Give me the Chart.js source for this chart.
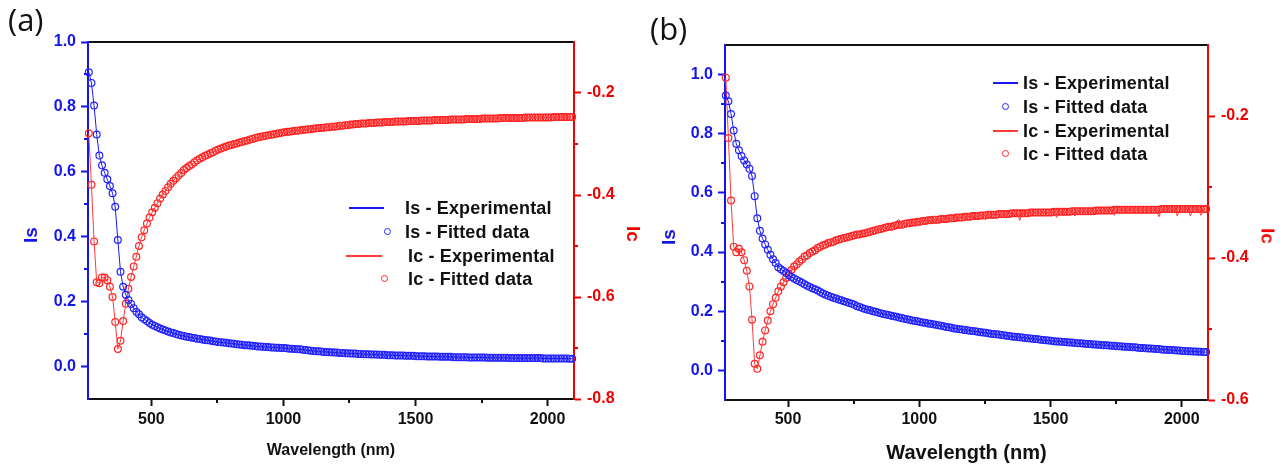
<!DOCTYPE html>
<html><head><meta charset="utf-8">
<script src="https://cdn.jsdelivr.net/npm/chart.js@4.4.1/dist/chart.umd.min.js"></script>
<style>
html,body{margin:0;padding:0;background:#fff;}
body{width:1287px;height:465px;position:relative;overflow:hidden;}
canvas{position:absolute;top:0;}
.panel{position:absolute;font-family:'Open Sans','Noto Sans',sans-serif;font-size:31px;line-height:31px;color:#111;white-space:nowrap;}
.ytitle{position:absolute;font:bold 19px 'Liberation Sans',Arial,sans-serif;line-height:19px;white-space:nowrap;}
.lrow{position:absolute;height:20px;line-height:20px;white-space:nowrap;font:bold 18px 'Liberation Sans',Arial,sans-serif;color:#111;letter-spacing:0.15px;}
.lline{position:absolute;height:1.4px;}
.ldot{position:absolute;width:5px;height:5px;border-style:solid;border-width:1.3px;border-radius:50%;}
</style></head><body>
<canvas id="ca" width="645" height="465" style="left:0px;width:645px;height:465px"></canvas>
<canvas id="cb" width="642" height="465" style="left:645px;width:642px;height:465px"></canvas>
<div class="panel" style="left:8px;top:4px">(a)</div>
<div class="panel" style="left:650px;top:13px">(b)</div>
<div id="overlay"></div>
<script>
// ---------------- data ----------------
const wavelength = [
263,273,283,293,303,313,323,333,343,353,
363,373,383,393,403,413,423,433,443,453,
463,473,483,493,503,513,523,533,543,553,
563,573,583,593,603,613,623,633,643,653,
663,673,683,693,703,713,723,733,743,753,
763,773,783,793,803,813,823,833,843,853,
863,873,883,893,903,913,923,933,943,953,
963,973,983,993,1003,1013,1023,1033,1043,1053,
1063,1073,1083,1093,1103,1113,1123,1133,1143,1153,
1163,1173,1183,1193,1203,1213,1223,1233,1243,1253,
1263,1273,1283,1293,1303,1313,1323,1333,1343,1353,
1363,1373,1383,1393,1403,1413,1423,1433,1443,1453,
1463,1473,1483,1493,1503,1513,1523,1533,1543,1553,
1563,1573,1583,1593,1603,1613,1623,1633,1643,1653,
1663,1673,1683,1693,1703,1713,1723,1733,1743,1753,
1763,1773,1783,1793,1803,1813,1823,1833,1843,1853,
1863,1873,1883,1893,1903,1913,1923,1933,1943,1953,
1963,1973,1983,1993,2003,2013,2023,2033,2043,2053,
2063,2073,2083,2093];

// panel (a)
const isA = [
0.907,0.874,0.804,0.715,0.650,0.620,0.597,0.577,0.556,0.534,
0.492,0.390,0.292,0.246,0.221,0.205,0.193,0.180,0.169,0.161,
0.152,0.146,0.140,0.134,0.129,0.125,0.121,0.117,0.114,0.111,
0.108,0.105,0.103,0.100,0.098,0.096,0.094,0.092,0.091,0.089,
0.088,0.086,0.085,0.083,0.082,0.081,0.080,0.078,0.077,0.076,
0.075,0.074,0.073,0.072,0.071,0.070,0.069,0.068,0.067,0.066,
0.066,0.065,0.064,0.063,0.062,0.062,0.061,0.060,0.060,0.059,
0.059,0.058,0.058,0.057,0.057,0.056,0.055,0.055,0.054,0.053,
0.053,0.052,0.051,0.050,0.049,0.048,0.047,0.047,0.046,0.045,
0.045,0.044,0.044,0.043,0.043,0.042,0.042,0.041,0.041,0.040,
0.040,0.040,0.039,0.039,0.038,0.038,0.038,0.037,0.037,0.037,
0.036,0.036,0.036,0.035,0.035,0.035,0.034,0.034,0.034,0.034,
0.033,0.033,0.033,0.033,0.032,0.032,0.032,0.032,0.031,0.031,
0.031,0.031,0.031,0.030,0.030,0.030,0.030,0.030,0.029,0.029,
0.029,0.029,0.029,0.029,0.028,0.028,0.028,0.028,0.028,0.028,
0.028,0.027,0.027,0.027,0.027,0.027,0.027,0.027,0.027,0.026,
0.026,0.026,0.026,0.026,0.026,0.026,0.026,0.026,0.026,0.026,
0.026,0.026,0.025,0.025,0.025,0.025,0.025,0.025,0.025,0.025,
0.025,0.025,0.024,0.024];
const icA = [
-0.279,-0.380,-0.491,-0.571,-0.573,-0.562,-0.562,-0.567,-0.580,-0.600,
-0.649,-0.702,-0.686,-0.647,-0.613,-0.584,-0.561,-0.540,-0.521,-0.500,
-0.483,-0.469,-0.456,-0.444,-0.434,-0.425,-0.416,-0.407,-0.399,-0.392,
-0.385,-0.378,-0.372,-0.367,-0.362,-0.357,-0.351,-0.347,-0.343,-0.340,
-0.336,-0.332,-0.329,-0.326,-0.323,-0.321,-0.318,-0.316,-0.313,-0.311,
-0.309,-0.307,-0.305,-0.303,-0.302,-0.300,-0.299,-0.297,-0.296,-0.294,
-0.293,-0.291,-0.290,-0.288,-0.287,-0.286,-0.285,-0.284,-0.283,-0.282,
-0.281,-0.280,-0.279,-0.278,-0.277,-0.276,-0.276,-0.275,-0.274,-0.274,
-0.273,-0.272,-0.272,-0.271,-0.271,-0.270,-0.269,-0.269,-0.268,-0.268,
-0.267,-0.267,-0.266,-0.266,-0.265,-0.264,-0.264,-0.263,-0.263,-0.262,
-0.262,-0.261,-0.261,-0.260,-0.260,-0.260,-0.259,-0.259,-0.259,-0.258,
-0.258,-0.258,-0.257,-0.257,-0.257,-0.257,-0.256,-0.256,-0.256,-0.256,
-0.256,-0.255,-0.255,-0.255,-0.255,-0.255,-0.254,-0.254,-0.254,-0.254,
-0.254,-0.253,-0.253,-0.253,-0.253,-0.253,-0.253,-0.252,-0.252,-0.252,
-0.252,-0.252,-0.252,-0.251,-0.251,-0.251,-0.251,-0.251,-0.251,-0.250,
-0.250,-0.250,-0.250,-0.250,-0.250,-0.250,-0.249,-0.249,-0.249,-0.249,
-0.249,-0.249,-0.249,-0.249,-0.249,-0.248,-0.248,-0.248,-0.248,-0.248,
-0.248,-0.248,-0.248,-0.248,-0.248,-0.248,-0.247,-0.247,-0.247,-0.247,
-0.247,-0.247,-0.247,-0.247];

// panel (b)
const isB = [
0.929,0.910,0.867,0.811,0.766,0.744,0.725,0.710,0.696,0.682,
0.657,0.589,0.514,0.472,0.446,0.426,0.408,0.391,0.376,0.363,
0.349,0.342,0.336,0.329,0.322,0.316,0.311,0.306,0.301,0.296,
0.291,0.286,0.282,0.278,0.274,0.270,0.265,0.260,0.256,0.252,
0.249,0.246,0.243,0.240,0.237,0.234,0.231,0.228,0.225,0.222,
0.217,0.214,0.211,0.208,0.205,0.203,0.200,0.198,0.196,0.193,
0.191,0.189,0.187,0.185,0.183,0.181,0.179,0.177,0.175,0.173,
0.171,0.169,0.167,0.166,0.164,0.162,0.161,0.159,0.158,0.156,
0.154,0.153,0.151,0.149,0.147,0.146,0.144,0.142,0.141,0.139,
0.138,0.137,0.136,0.134,0.133,0.132,0.131,0.129,0.128,0.127,
0.126,0.124,0.123,0.122,0.121,0.120,0.119,0.117,0.116,0.115,
0.114,0.113,0.112,0.111,0.110,0.109,0.108,0.107,0.106,0.105,
0.104,0.103,0.102,0.101,0.100,0.099,0.098,0.098,0.097,0.096,
0.095,0.094,0.094,0.093,0.092,0.092,0.091,0.090,0.089,0.089,
0.088,0.088,0.087,0.086,0.085,0.085,0.084,0.083,0.083,0.082,
0.082,0.081,0.080,0.080,0.079,0.078,0.078,0.077,0.076,0.076,
0.075,0.074,0.074,0.073,0.072,0.072,0.071,0.070,0.070,0.069,
0.069,0.068,0.067,0.067,0.066,0.066,0.065,0.065,0.064,0.064,
0.063,0.063,0.062,0.062];
const icB = [
-0.146,-0.231,-0.319,-0.384,-0.392,-0.387,-0.392,-0.403,-0.418,-0.440,
-0.487,-0.549,-0.556,-0.537,-0.518,-0.502,-0.488,-0.475,-0.465,-0.456,
-0.447,-0.440,-0.434,-0.428,-0.422,-0.417,-0.412,-0.409,-0.405,-0.402,
-0.398,-0.396,-0.393,-0.391,-0.389,-0.386,-0.384,-0.382,-0.381,-0.379,
-0.378,-0.377,-0.375,-0.374,-0.373,-0.372,-0.371,-0.370,-0.369,-0.368,
-0.367,-0.367,-0.366,-0.365,-0.364,-0.363,-0.362,-0.361,-0.360,-0.359,
-0.358,-0.357,-0.356,-0.356,-0.355,-0.354,-0.353,-0.353,-0.352,-0.351,
-0.351,-0.350,-0.350,-0.349,-0.349,-0.348,-0.348,-0.347,-0.347,-0.346,
-0.346,-0.346,-0.345,-0.345,-0.345,-0.344,-0.344,-0.344,-0.343,-0.343,
-0.343,-0.342,-0.342,-0.342,-0.341,-0.341,-0.341,-0.340,-0.340,-0.340,
-0.339,-0.339,-0.339,-0.339,-0.338,-0.338,-0.338,-0.338,-0.338,-0.337,
-0.337,-0.337,-0.337,-0.337,-0.337,-0.337,-0.336,-0.336,-0.336,-0.336,
-0.336,-0.336,-0.336,-0.336,-0.336,-0.335,-0.335,-0.335,-0.335,-0.335,
-0.335,-0.335,-0.334,-0.334,-0.334,-0.334,-0.334,-0.334,-0.334,-0.334,
-0.334,-0.333,-0.333,-0.333,-0.333,-0.333,-0.333,-0.333,-0.332,-0.332,
-0.332,-0.332,-0.332,-0.332,-0.332,-0.332,-0.332,-0.332,-0.332,-0.332,
-0.332,-0.332,-0.332,-0.332,-0.332,-0.332,-0.331,-0.331,-0.331,-0.331,
-0.331,-0.331,-0.331,-0.331,-0.331,-0.331,-0.331,-0.331,-0.331,-0.331,
-0.331,-0.331,-0.331,-0.331];
// experimental Ic (b) points that differ from the fit (noise spikes): [wavelength, value]
const icBExpNoise = [[913,-0.348],[923,-0.346],[1383,-0.347],[1523,-0.343],[1593,-0.341],
  [1743,-0.340],[1913,-0.342],[1983,-0.341],[2033,-0.341],[2073,-0.340]];

// axes / ticks
const xRange = [260, 2100];
const xTicks = [500, 1000, 1500, 2000];
const xMinor = [750, 1250, 1750];
const isRangeA = [-0.1, 1.0];
const isTicksA = [0.0, 0.2, 0.4, 0.6, 0.8, 1.0];
const isMinorA = [0.1, 0.3, 0.5, 0.7, 0.9];
const icRangeA = [-0.8, -0.1];
const icTicksA = [-0.8, -0.6, -0.4, -0.2];
const icMinorA = [-0.7, -0.5, -0.3];
const isRangeB = [-0.1, 1.1];
const isTicksB = [0.0, 0.2, 0.4, 0.6, 0.8, 1.0];
const isMinorB = [0.1, 0.3, 0.5, 0.7, 0.9];
const icRangeB = [-0.6, -0.1];
const icTicksB = [-0.6, -0.4, -0.2];
const icMinorB = [-0.5, -0.3];
const seriesLabels = ['Is - Experimental', 'Is - Fitted data', 'Ic - Experimental', 'Ic - Fitted data'];
const xTitle = 'Wavelength (nm)';
const isTitle = 'Is';
const icTitle = 'Ic';

// ---------------- styling ----------------
const BLUE_AX = '#1414ee', RED_AX = '#f00000', BLACK = '#111111';
const BLUE_LN = '#1a1aee', BLUE_PT = '#2424ff', RED_LN = '#ff3a3a', RED_PT = '#ff2424';
const FAM = "'Liberation Sans', Arial, Helvetica, sans-serif";

const minorTickPlugin = {
  id: 'minorTicks',
  afterDraw(chart, args, opts) {
    const ctx = chart.ctx;
    ctx.save();
    (opts.items || []).forEach(it => {
      const s = chart.scales[it.scale];
      ctx.strokeStyle = it.color;
      ctx.lineWidth = 2;
      it.values.forEach(v => {
        const p = Math.round(s.getPixelForValue(v));
        ctx.beginPath();
        if (s.position === 'left') { ctx.moveTo(s.right, p); ctx.lineTo(s.right - it.len, p); }
        else if (s.position === 'right') { ctx.moveTo(s.left, p); ctx.lineTo(s.left + it.len, p); }
        else { ctx.moveTo(p, s.top); ctx.lineTo(p, s.top + it.len); }
        ctx.stroke();
      });
    });
    ctx.restore();
  }
};

function pts(arr) { return wavelength.map((w, i) => ({x: w, y: arr[i]})); }
function withNoise(arr, noise) {
  const out = arr.slice();
  noise.forEach(([w, v]) => { const i = wavelength.indexOf(w); if (i >= 0) out[i] = v; });
  return out;
}

function makePanel(id, P) {
  const f = (size) => ({family: FAM, size: size, weight: 'bold', lineHeight: 1.2});
  const lineDs = (label, arr, axis, color) => ({label, data: pts(arr), yAxisID: axis, borderColor: color,
    backgroundColor: color, borderWidth: 1, pointRadius: 0, tension: 0, fill: false, clip: 8});
  const ptDs = (label, arr, axis, color) => ({label, data: pts(arr), yAxisID: axis, showLine: false,
    borderColor: color, backgroundColor: 'rgba(0,0,0,0)', pointRadius: 3.4, pointBorderWidth: 1.2,
    pointBorderColor: color, pointBackgroundColor: 'rgba(0,0,0,0)', pointStyle: 'circle', clip: 8});
  const ticksFrom = (arr) => (s) => { s.ticks = arr.map(v => ({value: v})); };
  return new Chart(document.getElementById(id), {
    type: 'line',
    data: {datasets: [
      lineDs(seriesLabels[0], P.is, 'y', BLUE_LN),
      ptDs(seriesLabels[1], P.is, 'y', BLUE_PT),
      lineDs(seriesLabels[2], P.icExp, 'y2', RED_LN),
      ptDs(seriesLabels[3], P.ic, 'y2', RED_PT)
    ]},
    options: {
      responsive: false, animation: false, events: [],
      layout: {padding: {top: P.top, left: 0, right: 0, bottom: 0}},
      plugins: {
        legend: {display: false}, tooltip: {enabled: false},
        minorTicks: {items: [
          {scale: 'x', values: xMinor, color: BLACK, len: 4},
          {scale: 'y', values: P.isMinor, color: BLUE_AX, len: 4},
          {scale: 'y2', values: P.icMinor, color: RED_AX, len: 4}
        ]}
      },
      scales: {
        x: {type: 'linear', position: 'bottom', min: xRange[0], max: xRange[1],
          afterBuildTicks: ticksFrom(xTicks), afterFit: s => { s.height = P.xH; },
          ticks: {color: BLACK, font: f(16), padding: P.xPad, maxRotation: 0, autoSkip: false, callback: v => String(v)},
          grid: {display: true, drawOnChartArea: false, drawTicks: true, tickLength: 7, tickColor: BLACK, tickWidth: 2, color: BLACK},
          border: {display: true, color: BLACK, width: 2},
          title: {display: true, text: xTitle, color: BLACK, font: f(P.xTitleSize), padding: {top: 0, bottom: P.xTitlePad}}
        },
        xt: {type: 'linear', position: 'top', min: xRange[0], max: xRange[1],
          ticks: {display: false}, grid: {display: false, drawTicks: false},
          border: {display: true, color: BLACK, width: 2}, afterFit: s => { s.height = 0; }
        },
        y: {type: 'linear', position: 'left', min: P.isRange[0], max: P.isRange[1],
          afterBuildTicks: ticksFrom(P.isTicks), afterFit: s => { s.width = P.yW; },
          ticks: {color: BLUE_AX, font: f(16), padding: P.yPad, autoSkip: false, callback: v => Number(v).toFixed(1)},
          grid: {display: true, drawOnChartArea: false, drawTicks: true, tickLength: 7, tickColor: BLUE_AX, tickWidth: 2, color: BLUE_AX},
          border: {display: true, color: BLUE_AX, width: 2}
        },
        y2: {type: 'linear', position: 'right', min: P.icRange[0], max: P.icRange[1],
          afterBuildTicks: ticksFrom(P.icTicks), afterFit: s => { s.width = P.y2W; },
          ticks: {color: RED_AX, font: f(16), padding: P.y2Pad, autoSkip: false, callback: v => Number(v).toFixed(1)},
          grid: {display: true, drawOnChartArea: false, drawTicks: true, tickLength: 7, tickColor: RED_AX, tickWidth: 2, color: RED_AX},
          border: {display: true, color: RED_AX, width: 2}
        }
      }
    },
    plugins: [minorTickPlugin]
  });
}

function addOverlay(chart, P) {
  const ov = document.getElementById('overlay');
  const t1 = document.createElement('div');
  t1.className = 'ytitle'; t1.textContent = isTitle; t1.style.color = BLUE_AX;
  t1.style.left = P.isTitle[0] + 'px'; t1.style.top = P.isTitle[1] + 'px';
  t1.style.transform = 'translate(-50%,-50%) rotate(-90deg)';
  ov.appendChild(t1);
  const t2 = document.createElement('div');
  t2.className = 'ytitle'; t2.textContent = icTitle; t2.style.color = RED_AX;
  t2.style.left = P.icTitle[0] + 'px'; t2.style.top = P.icTitle[1] + 'px';
  t2.style.transform = 'translate(-50%,-50%) rotate(90deg)';
  ov.appendChild(t2);
  chart.data.datasets.forEach((ds, i) => {
    const L = P.legend[i];
    const row = document.createElement('div');
    row.className = 'lrow';
    row.style.left = L.tx + 'px'; row.style.top = (L.y - 10) + 'px';
    row.textContent = ds.label;
    ov.appendChild(row);
    if (ds.pointRadius === 0) {
      const ln = document.createElement('div');
      ln.className = 'lline';
      ln.style.left = L.x0 + 'px'; ln.style.width = (L.x1 - L.x0) + 'px';
      ln.style.top = (L.y - 0.7) + 'px'; ln.style.background = ds.borderColor;
      ov.appendChild(ln);
    } else {
      const d = document.createElement('div');
      d.className = 'ldot';
      d.style.left = (L.cx - 3.8) + 'px'; d.style.top = (L.y - 3.8) + 'px';
      d.style.borderColor = ds.pointBorderColor;
      ov.appendChild(d);
    }
  });
}

const PA = {is: isA, ic: icA, icExp: icA, isRange: isRangeA, isTicks: isTicksA, isMinor: isMinorA,
  icRange: icRangeA, icTicks: icTicksA, icMinor: icMinorA,
  top: 42, xH: 66, yW: 88, y2W: 71, xPad: 4, yPad: 5, y2Pad: 6, xTitleSize: 16, xTitlePad: 5,
  isTitle: [30, 235], icTitle: [633, 234],
  legend: [{y: 208, x0: 349, x1: 384, tx: 405}, {y: 232, cx: 388, tx: 405},
           {y: 256, x0: 346, x1: 382, tx: 408}, {y: 279, cx: 385, tx: 408}]};
const PB = {is: isB, ic: icB, icExp: withNoise(icB, icBExpNoise), isRange: isRangeB, isTicks: isTicksB, isMinor: isMinorB,
  icRange: icRangeB, icTicks: icTicksB, icMinor: icMinorB,
  top: 45, xH: 65, yW: 80, y2W: 79, xPad: 3, yPad: 5, y2Pad: 6, xTitleSize: 20, xTitlePad: 0,
  isTitle: [668, 237], icTitle: [1268, 236],
  legend: [{y: 83, x0: 993, x1: 1018, tx: 1023}, {y: 107, cx: 1006, tx: 1023},
           {y: 131, x0: 993, x1: 1018, tx: 1023}, {y: 154, cx: 1006, tx: 1023}]};

const chartA = makePanel('ca', PA);
const chartB = makePanel('cb', PB);
addOverlay(chartA, PA);
addOverlay(chartB, PB);
</script>
</body></html>
